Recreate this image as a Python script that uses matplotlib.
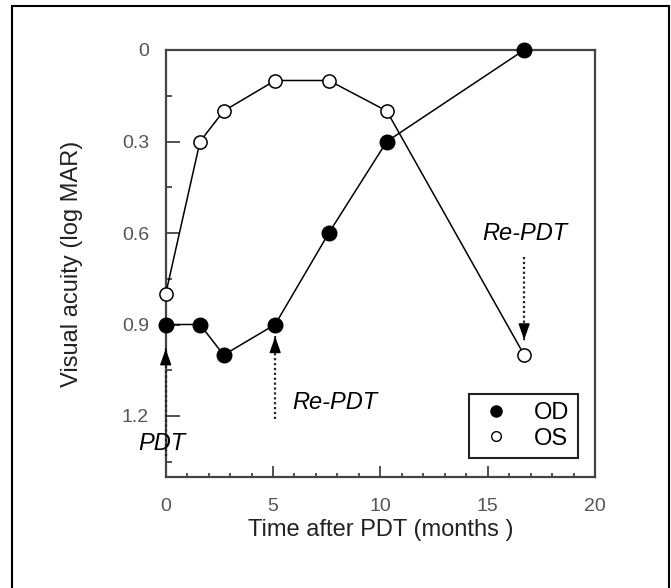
import matplotlib
matplotlib.use("Agg")
import matplotlib.pyplot as plt
from matplotlib.patches import Rectangle
from matplotlib.lines import Line2D
from matplotlib.ticker import MultipleLocator

plt.rcParams["font.family"] = ["Liberation Sans", "DejaVu Sans"]

# data
months = [0, 1.6, 2.7, 5.1, 7.6, 10.3, 16.7]
va_od = [0.9, 0.9, 1.0, 0.9, 0.6, 0.3, 0.0]
va_os = [0.8, 0.3, 0.2, 0.1, 0.1, 0.2, 1.0]

# treatment markers: (x, tail, tip, label, label x, label y)
pdt_x = [0, 5.1, 16.7]
pdt_tail = [1.33, 1.21, 0.68]
pdt_tip = [0.98, 0.94, 0.95]
pdt_text = ["PDT", "Re-PDT", "Re-PDT"]
pdt_text_x = [-0.2, 7.9, 16.72]
pdt_text_y = [1.29, 1.155, 0.60]

W, H = 671, 588
fig = plt.figure(figsize=(W / 100, H / 100), dpi=100)
ax = fig.add_axes([165.7 / W, 1 - 477 / H, (595 - 165.7) / W, (477 - 50) / H])

spine_col = "#444444"
ax.plot(months, va_os, "-o", color="black", lw=1.1, ms=9.5,
        mfc="white", mec="black", mew=1.1, clip_on=False, zorder=3)
ax.plot(months, va_od, "-o", color="black", lw=1.1, ms=10.5,
        mfc="black", mec="black", clip_on=False, zorder=4)

# dotted arrows
for x, t0, t1, s, tx, ty in zip(pdt_x, pdt_tail, pdt_tip, pdt_text, pdt_text_x, pdt_text_y):
    ax.plot([x, x], [t0, t1], ls=(0, (1, 1.2)), color="#222222", lw=1.6,
            clip_on=False, zorder=3)
    step = 0.01 if t0 > t1 else -0.01
    ax.annotate("", xy=(x, t1), xytext=(x, t1 + step),
                arrowprops=dict(arrowstyle="-|>,head_length=0.9,head_width=0.32",
                                color="black", lw=1, mutation_scale=11))
    ax.text(tx, ty, s, style="italic", fontsize=17, ha="center", va="center")

ax.set_xlim(0, 20)
ax.set_ylim(1.4, 0)
ax.set_xticks([0, 5, 10, 15, 20])
ax.set_yticks([0, 0.3, 0.6, 0.9, 1.2])
ax.set_yticklabels(["0", "0.3", "0.6", "0.9", "1.2"])
ax.xaxis.set_minor_locator(MultipleLocator(1))
ax.yaxis.set_minor_locator(MultipleLocator(0.15))
ax.tick_params(which="both", direction="in", colors=spine_col, labelcolor="#555555",
               labelsize=14, width=1.3)
ax.tick_params(axis="y", which="major", length=10, pad=12)
ax.tick_params(axis="y", which="minor", length=4)
ax.tick_params(axis="x", which="major", length=8, pad=15)
ax.tick_params(axis="x", which="minor", length=3)
for sp in ax.spines.values():
    sp.set_color(spine_col)
    sp.set_linewidth(1.6)

ax.set_xlabel("Time after PDT (months )", fontsize=17, color="#222222", labelpad=3)
ax.set_ylabel("Visual acuity (log MAR)", fontsize=17, color="#222222", labelpad=28)

handles = [Line2D([], [], ls="none", marker="o", ms=8, mfc="black", mec="black"),
           Line2D([], [], ls="none", marker="o", ms=7, mfc="white", mec="black")]
leg = ax.legend(handles, ["OD", "OS"], loc="lower right", bbox_to_anchor=(0.96, 0.045),
                borderaxespad=0, fontsize=17, fancybox=False, framealpha=1,
                handlelength=1.6, handletextpad=0.8, borderpad=0.35, labelspacing=0.15)
leg.get_frame().set_edgecolor("#222222")
leg.get_frame().set_linewidth(1.5)

# outer frame of the figure
fig.patches.append(Rectangle((12 / W, -0.02), (669 - 12) / W, 1 - 6 / H + 0.02,
                             transform=fig.transFigure, fill=False,
                             edgecolor="black", lw=1.5))

fig.savefig("out.png", dpi=100)
